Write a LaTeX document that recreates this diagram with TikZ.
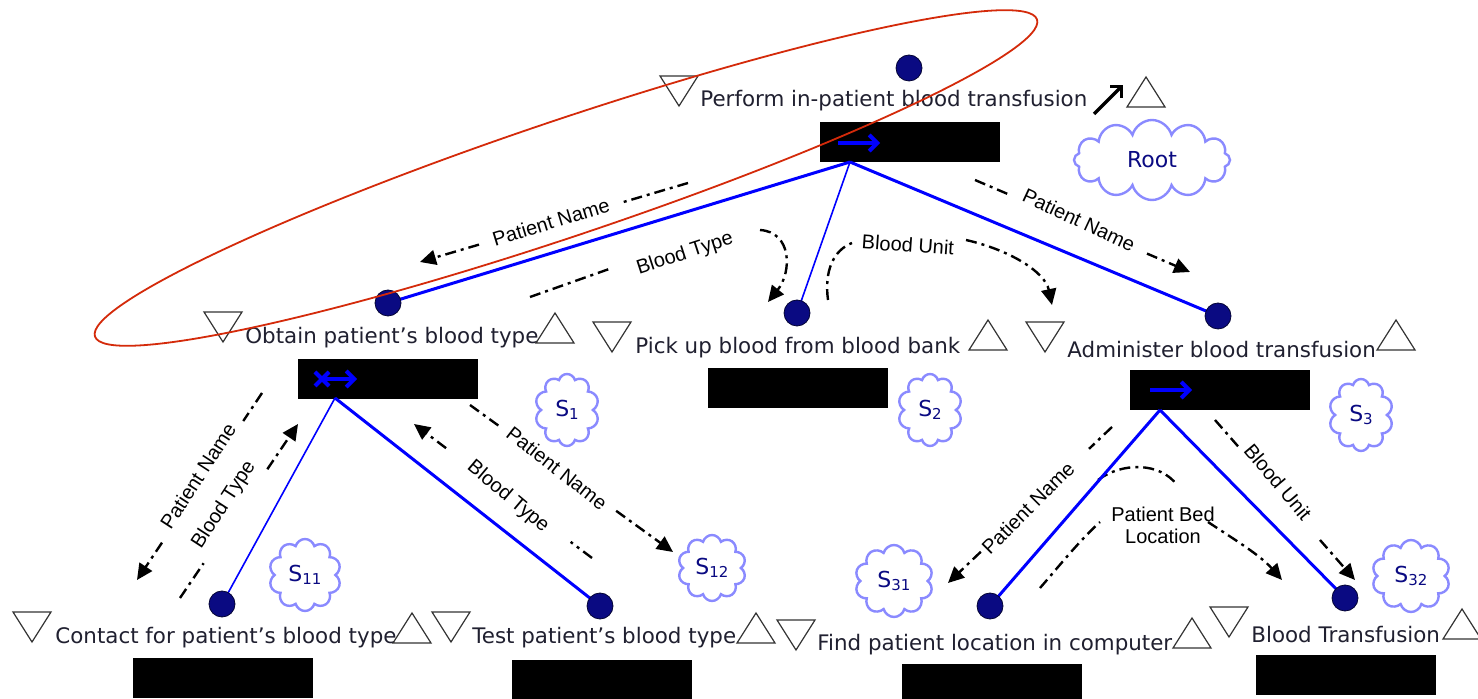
\documentclass[tikz,border=0pt]{standalone}
\usepackage{fontspec}
\setmainfont{DejaVu Sans}
\newfontfamily\flowfont{Liberation Sans}
\usetikzlibrary{arrows.meta,shapes.symbols,calc}
\definecolor{navy}{HTML}{0A0A82}
\definecolor{cloudc}{HTML}{8A8AFF}
\definecolor{ellred}{HTML}{D42A0A}
\definecolor{lineblue}{HTML}{0000FF}
\definecolor{txt}{HTML}{202030}
\begin{document}
\begin{tikzpicture}[x=0.5pt,y=-0.5pt,
  lbl/.style={anchor=west,inner sep=0,font=\fontsize{10.7}{12}\selectfont,text=txt},
  dot/.style={circle,fill=navy,draw=black!60!navy,line width=0.4pt,minimum size=13pt,inner sep=0},
  bar/.style={fill=black,inner sep=0,minimum width=90pt,minimum height=20pt},
  tri/.style={draw=black!80,line width=0.6pt,fill=white},
  thickedge/.style={draw=lineblue,line width=1.5pt},
  thinedge/.style={draw=lineblue,line width=0.8pt},
  flow/.style={black,line width=1.2pt,dash pattern=on 5.5pt off 2.5pt on 1.5pt off 2.5pt},
  tip/.style={-{Triangle[length=8pt,width=7.5pt]}},
  flowlbl/.style={inner sep=0,font=\flowfont\fontsize{10}{11}\selectfont,text=black},
  cl/.style={cloud,cloud puffs=10,draw=cloudc,line width=1.2pt,fill=white,cloud ignores aspect,
    text=navy,inner sep=0,minimum width=32pt,minimum height=36pt,font=\fontsize{11}{12}\selectfont},
  icon/.style={lineblue,line width=2pt},
  downtri/.pic={\draw[tri] (-19,-15) -- (19,-15) -- (0,15) -- cycle;},
  uptri/.pic={\draw[tri] (-19,15) -- (19,15) -- (0,-15) -- cycle;}
]
\fill[white] (0,0) rectangle (1478,699);
\useasboundingbox (0,0) rectangle (1478,699);

% ---------- coordinates of flows ----------
\coordinate (f1a) at (688,183); \coordinate (f1b) at (420,262);
\coordinate (f2a) at (530,297); \coordinate (f2b) at (612,268);
\coordinate (f2c) at (760,230); \coordinate (f2d) at (768,302);
\coordinate (f3a) at (828,300); \coordinate (f3b) at (852,243);
\coordinate (f3c) at (966,240); \coordinate (f3d) at (1052,305);
\coordinate (f4a) at (975,180); \coordinate (f4b) at (1190,272);
\coordinate (f5a) at (262,393); \coordinate (f5b) at (137,580);
\coordinate (f6a) at (180,598); \coordinate (f6b) at (298,424);
\coordinate (f7a) at (592,558); \coordinate (f7b) at (414,424);
\coordinate (f8a) at (470,405); \coordinate (f8b) at (673,552);
\coordinate (f9a) at (1112,427); \coordinate (f9b) at (948,583);
\coordinate (f10a) at (1040,588); \coordinate (f10b) at (1100,522);
\coordinate (f10c) at (1098,480); \coordinate (f10d) at (1177,485);
\coordinate (f10e) at (1208,522); \coordinate (f10f) at (1282,580);
\coordinate (f11a) at (1215,420); \coordinate (f11b) at (1355,580);

% ---------- data flows ----------
\draw[flow] (f1a) -- ($(f1a)!0.25!(f1b)$);
\draw[flow,tip] ($(f1a)!0.78!(f1b)$) -- (f1b);
\node[flowlbl,rotate=17] (l1) at (551,222) {Patient Name};

\draw[flow] (f2a) -- (f2b);
\draw[flow,tip] (f2c) .. controls (792,232) and (792,272) .. (f2d);
\node[flowlbl,rotate=18] (l2) at (685,254) {Blood Type};

\draw[flow] (f3a) .. controls (824,270) and (834,250) .. (f3b);
\draw[flow,tip] (f3c) .. controls (1010,250) and (1045,272) .. (f3d);
\node[flowlbl,rotate=-4] (l3) at (908,245) {Blood Unit};

\draw[flow] (f4a) -- ($(f4a)!0.15!(f4b)$);
\draw[flow,tip] ($(f4a)!0.8!(f4b)$) -- (f4b);
\node[flowlbl,rotate=-25] (l4) at (1079,220) {Patient Name};

\draw[flow] (f5a) -- ($(f5a)!0.15!(f5b)$);
\draw[flow,tip] ($(f5a)!0.80!(f5b)$) -- (f5b);
\node[flowlbl,rotate=57] (l5) at (198,476) {Patient Name};

\draw[flow] (f6a) -- ($(f6a)!0.2!(f6b)$);
\draw[flow,tip] ($(f6a)!0.74!(f6b)$) -- (f6b);
\node[flowlbl,rotate=57] (l6) at (224,505) {Blood Type};

\draw[flow] (f7a) -- ($(f7a)!0.12!(f7b)$);
\draw[flow,tip] ($(f7a)!0.82!(f7b)$) -- (f7b);
\node[flowlbl,rotate=-40] (l7) at (508,497) {Blood Type};

\draw[flow] (f8a) -- ($(f8a)!0.15!(f8b)$);
\draw[flow,tip] ($(f8a)!0.72!(f8b)$) -- (f8b);
\node[flowlbl,rotate=-38] (l8) at (557,468) {Patient Name};

\draw[flow] (f9a) -- ($(f9a)!0.14!(f9b)$);
\draw[flow,tip] ($(f9a)!0.80!(f9b)$) -- (f9b);
\node[flowlbl,rotate=45] (l9) at (1028,508) {Patient Name};

\draw[flow] (f10a) .. controls (1060,565) and (1080,540) .. (f10b);
\draw[flow] (f10c) .. controls (1122,462) and (1160,462) .. (f10d);
\draw[flow,tip] (f10e) .. controls (1235,540) and (1260,555) .. (f10f);
\node[flowlbl,align=center] (l10) at (1163,525) {Patient Bed\\Location};

\draw[flow] (f11a) -- ($(f11a)!0.18!(f11b)$);
\draw[flow,tip] ($(f11a)!0.75!(f11b)$) -- (f11b);
\node[flowlbl,rotate=-50] (l11) at (1278,482) {Blood Unit};

% ---------- task nodes ----------
\node[bar] (b0) at (910,142) {};
\node[bar] (b1) at (388,379) {};
\node[bar] (b2) at (798,388) {};
\node[bar] (b3) at (1220,390) {};
\node[bar] (b11) at (223,678) {};
\node[bar] (b12) at (602,680) {};
\node[bar] (b31) at (992,684) {};
\node[bar] (b32) at (1346,675) {};

\coordinate (p0) at (850,162);
\coordinate (p1) at (335,398);
\coordinate (p3) at (1160,410);

\draw[thickedge] (p0) -- (388,303);
\draw[thinedge] (p0) -- (797,313);
\draw[thickedge] (p0) -- (1218,316);
\draw[thinedge] (p1) -- (222,604);
\draw[thickedge] (p1) -- (600,606);
\draw[thickedge] (p3) -- (990,606);
\draw[thickedge] (p3) -- (1345,598);

\node[dot] (d0) at (909,68) {};
\node[dot] (d1) at (388,303) {};
\node[dot] (d2) at (797,313) {};
\node[dot] (d3) at (1218,316) {};
\node[dot] (d11) at (222,604) {};
\node[dot] (d12) at (600,606) {};
\node[dot] (d31) at (990,606) {};
\node[dot] (d32) at (1345,598) {};

% icons in bars
\draw[icon,-{Straight Barb[length=4pt,width=8pt]}] (838,143) -- (880,143);
\draw[icon] (315,372) -- (329,386) (315,386) -- (329,372);
\draw[icon,-{Straight Barb[length=4pt,width=8pt]}] (322,379) -- (357,379);
\draw[icon,-{Straight Barb[length=4pt,width=8pt]}] (1150,390) -- (1192,390);

% labels
\node[lbl] (t0) at (700,101) {Perform in-patient blood transfusion};
\node[lbl] (t1) at (245,338) {Obtain patient's blood type};
\node[lbl] (t2) at (635,348) {Pick up blood from blood bank};
\node[lbl] (t3) at (1067,350) {Administer blood transfusion};
\node[lbl] (t11) at (55,638) {Contact for patient's blood type};
\node[lbl] (t12) at (472,638) {Test patient's blood type};
\node[lbl] (t31) at (817,645) {Find patient location in computer};
\node[lbl] (t32) at (1251,635) {Blood Transfusion};

% triangles
\pic at (679,91) {downtri};   \pic at (1146,92) {uptri};
\pic at (223,327) {downtri};  \pic at (555,328) {uptri};
\pic at (612,337) {downtri};  \pic at (988,335) {uptri};
\pic at (1045,337) {downtri}; \pic at (1396,335) {uptri};
\pic at (32,627) {downtri};   \pic at (412,628) {uptri};
\pic at (451,627) {downtri};  \pic at (756,628) {uptri};
\pic at (796,635) {downtri};  \pic at (1192,633) {uptri};
\pic at (1229,622) {downtri}; \pic at (1462,624) {uptri};

% small arrow next to root label
\coordinate (ua) at (1094,114); \coordinate (ub) at (1123,85);
\draw[black,line width=1.6pt,-{Straight Barb[length=4pt,width=8pt]}] (ua) -- (ub);

% clouds
\node[cl,cloud puffs=12,minimum width=78pt,minimum height=40pt] (c0) at (1152,160) {Root};
\node[cl] (c1) at (567,410) {S\raisebox{-0.2ex}{\fontsize{7.5}{8}\selectfont 1}};
\node[cl] (c2) at (930,410) {S\raisebox{-0.2ex}{\fontsize{7.5}{8}\selectfont 2}};
\node[cl] (c3) at (1361,415) {S\raisebox{-0.2ex}{\fontsize{7.5}{8}\selectfont 3}};
\node[cl,minimum width=36pt] (c11) at (305,575) {S\raisebox{-0.2ex}{\fontsize{7.5}{8}\selectfont 11}};
\node[cl,minimum width=34pt,minimum height=33pt] (c12) at (712,568) {S\raisebox{-0.2ex}{\fontsize{7.5}{8}\selectfont 12}};
\node[cl,minimum width=39pt] (c31) at (894,581) {S\raisebox{-0.2ex}{\fontsize{7.5}{8}\selectfont 31}};
\node[cl,minimum width=39pt] (c32) at (1411,576) {S\raisebox{-0.2ex}{\fontsize{7.5}{8}\selectfont 32}};

% red highlight ellipse
\draw[ellred,line width=0.9pt,rotate around={18.6:(566,178)}] (566,178) ellipse [x radius=497, y radius=58];
\end{tikzpicture}
\end{document}
